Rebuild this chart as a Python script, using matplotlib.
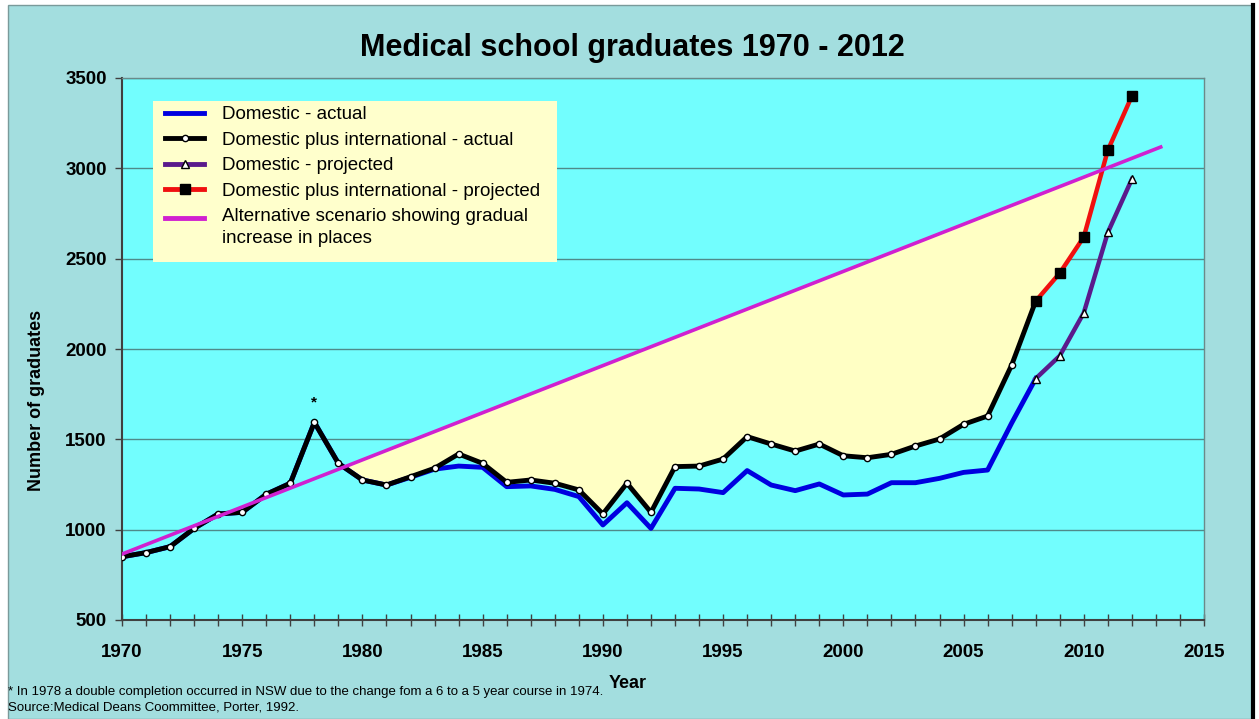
import matplotlib
matplotlib.use("Agg")
import matplotlib.pyplot as plt
from matplotlib.legend_handler import HandlerLine2D
from matplotlib.lines import Line2D
from matplotlib.patches import Rectangle
import numpy as np

plt.rcParams["font.family"] = ["Liberation Sans", "DejaVu Sans"]

# Actual series (1970 - 2008)
years_actual = list(range(1970, 2009))
domestic_actual = [
    850, 873, 906, 1007, 1087, 1096, 1196, 1257, 1594, 1367,
    1275, 1247, 1290, 1335, 1352, 1345, 1238, 1242, 1223, 1183,
    1026, 1149, 1007, 1229, 1225, 1205, 1327, 1247, 1216, 1253,
    1192, 1197, 1260, 1260, 1284, 1317, 1330, 1590, 1836,
]
total_actual = [
    850, 873, 906, 1007, 1087, 1096, 1196, 1257, 1594, 1367,
    1275, 1247, 1293, 1340, 1419, 1367, 1262, 1275, 1257, 1220,
    1087, 1257, 1096, 1349, 1352, 1391, 1515, 1474, 1435, 1474,
    1409, 1398, 1417, 1463, 1502, 1583, 1629, 1911, 2265,
]

# Projected series (2008 - 2012)
years_projected = [2008, 2009, 2010, 2011, 2012]
domestic_projected = [1836, 1962, 2200, 2645, 2940]
total_projected = [2265, 2420, 2620, 3100, 3400]

# Alternative scenario: straight line
alt_years = [1970, 2013.2]
alt_values = [865, 3118]

legend_labels = [
    "Domestic - actual",
    "Domestic plus international - actual",
    "Domestic - projected",
    "Domestic plus international - projected",
    "Alternative scenario showing gradual\nincrease in places",
]

OUTER_BG = "#A3DEDF"
PLOT_BG = "#72FEFE"
FILL = "#FFFFC4"
BLUE = "#0000E0"
PURPLE = "#5A1A8C"
RED = "#F01010"
MAGENTA = "#D020D0"
GRID = "#4F8A8A"


class HandlerRaised(HandlerLine2D):
    """Line handle shifted up so it sits on the first line of a 2-line label."""

    def __init__(self, raise_by, **kw):
        super().__init__(**kw)
        self.raise_by = raise_by

    def create_artists(self, legend, orig_handle, xdescent, ydescent, width,
                       height, fontsize, trans):
        return super().create_artists(legend, orig_handle, xdescent,
                                      ydescent - self.raise_by, width, height,
                                      fontsize, trans)


fig = plt.figure(figsize=(12.59, 7.19), dpi=100, facecolor="white")

# outer chart frame
fig.patches.append(Rectangle((8 / 1259, 0), (1252 - 8) / 1259, 1 - 5 / 719,
                             transform=fig.transFigure, facecolor=OUTER_BG,
                             edgecolor="#7a9a9a", linewidth=1, zorder=-10))
fig.lines.append(Line2D([1253 / 1259, 1253 / 1259], [0, 1 - 5 / 719],
                        transform=fig.transFigure, color="black", linewidth=3,
                        zorder=-9))

ax = fig.add_axes([122 / 1259, 1 - 620 / 719, (1204 - 122) / 1259, (620 - 78) / 719])
ax.set_facecolor(PLOT_BG)

# shaded area between alternative scenario and total graduates
all_years = years_actual + years_projected[1:]
all_total = total_actual + total_projected[1:]
grid_x = np.arange(1979, 2012.001, 0.01)
tot_interp = np.interp(grid_x, all_years, all_total)
alt_interp = np.interp(grid_x, alt_years, alt_values)
ax.fill_between(grid_x, tot_interp, alt_interp, where=alt_interp >= tot_interp,
                color=FILL, linewidth=0, zorder=2)

ax.plot(years_actual, domestic_actual, color=BLUE, linewidth=3.5, zorder=3)
ax.plot(years_projected, domestic_projected, color=PURPLE, linewidth=3.2, zorder=4,
        marker="^", markersize=6, markerfacecolor="white", markeredgecolor="black",
        markeredgewidth=1)
ax.plot(years_actual, total_actual, color="black", linewidth=3.5, zorder=5,
        marker="o", markersize=4.5, markerfacecolor="white", markeredgecolor="black",
        markeredgewidth=1)
ax.plot(years_projected, total_projected, color=RED, linewidth=3.2, zorder=6,
        marker="s", markersize=7, markerfacecolor="black", markeredgecolor="black")
ax.plot(alt_years, alt_values, color=MAGENTA, linewidth=2.6, zorder=7)

# 1978 footnote marker
peak_i = total_actual.index(max(total_actual[:20]))
ax.annotate("*", xy=(years_actual[peak_i], total_actual[peak_i]), xytext=(0, 9),
            textcoords="offset points", ha="center", va="bottom", fontsize=11,
            fontweight="bold", zorder=8)

ax.set_xlim(1970, 2015)
ax.set_ylim(500, 3500)
ax.set_xticks(range(1970, 2016, 5))
ax.set_xticks(range(1970, 2016), minor=True)
ax.set_yticks(range(500, 3501, 500))
ax.yaxis.grid(True, color=GRID, linewidth=1)
ax.set_axisbelow(True)

ax.tick_params(axis="x", which="both", direction="inout", length=8, width=1,
               color="#404040")
ax.tick_params(axis="x", which="major", pad=13, labelsize=13.5)
ax.tick_params(axis="y", direction="out", length=5, width=1, color="#404040",
               pad=6, labelsize=13.5)
for lbl in ax.get_xticklabels() + ax.get_yticklabels():
    lbl.set_fontweight("bold")

for side in ("left", "bottom"):
    ax.spines[side].set_color("#404040")
    ax.spines[side].set_linewidth(1.5)
for side in ("top", "right"):
    ax.spines[side].set_color("#6a8a8a")
    ax.spines[side].set_linewidth(1)

ax.set_ylabel("Number of graduates", fontsize=13, fontweight="bold")
ax.yaxis.set_label_coords(-0.071, 0.406)

# legend background box (drawn separately for uneven padding)
ax.add_patch(Rectangle((31 / 1082, 358 / 542), 404 / 1082, 161 / 542,
                       transform=ax.transAxes, facecolor="#FFFFCC",
                       edgecolor="none", zorder=9))

handles = [
    Line2D([], [], color=BLUE, linewidth=3.5),
    Line2D([], [], color="black", linewidth=3.5, marker="o", markersize=4.5,
           markerfacecolor="white", markeredgecolor="black"),
    Line2D([], [], color=PURPLE, linewidth=3.5, marker="^", markersize=6,
           markerfacecolor="white", markeredgecolor="black"),
    Line2D([], [], color=RED, linewidth=3.5, marker="s", markersize=7,
           markerfacecolor="black", markeredgecolor="black"),
    Line2D([], [], color=MAGENTA, linewidth=3.5),
]
leg = ax.legend(handles, legend_labels, loc="upper left",
                bbox_to_anchor=(43 / 1082, 514 / 542), borderaxespad=0,
                fontsize=13.5, handlelength=2.1, handletextpad=0.95,
                labelspacing=0.45, borderpad=0, frameon=False,
                handler_map={handles[4]: HandlerRaised(14)})
leg.get_texts()[4].set_linespacing(1.35)
leg.set_zorder(10)

fig.text(632 / 1259, 1 - 48 / 719, "Medical school graduates 1970 - 2012",
         ha="center", va="center", fontsize=22, fontweight="bold")
fig.text(628 / 1259, 1 - 684 / 719, "Year", ha="center", va="center",
         fontsize=13, fontweight="bold")

fig.text(8 / 1259, 1 - 692 / 719,
         "* In 1978 a double completion occurred in NSW due to the change fom a 6 to a 5 year course in 1974.",
         ha="left", va="center", fontsize=9.5)
fig.text(8 / 1259, 1 - 707 / 719, "Source:Medical Deans Coommittee, Porter, 1992.",
         ha="left", va="center", fontsize=9.5)

fig.savefig("out.png", dpi=100, facecolor=fig.get_facecolor())
